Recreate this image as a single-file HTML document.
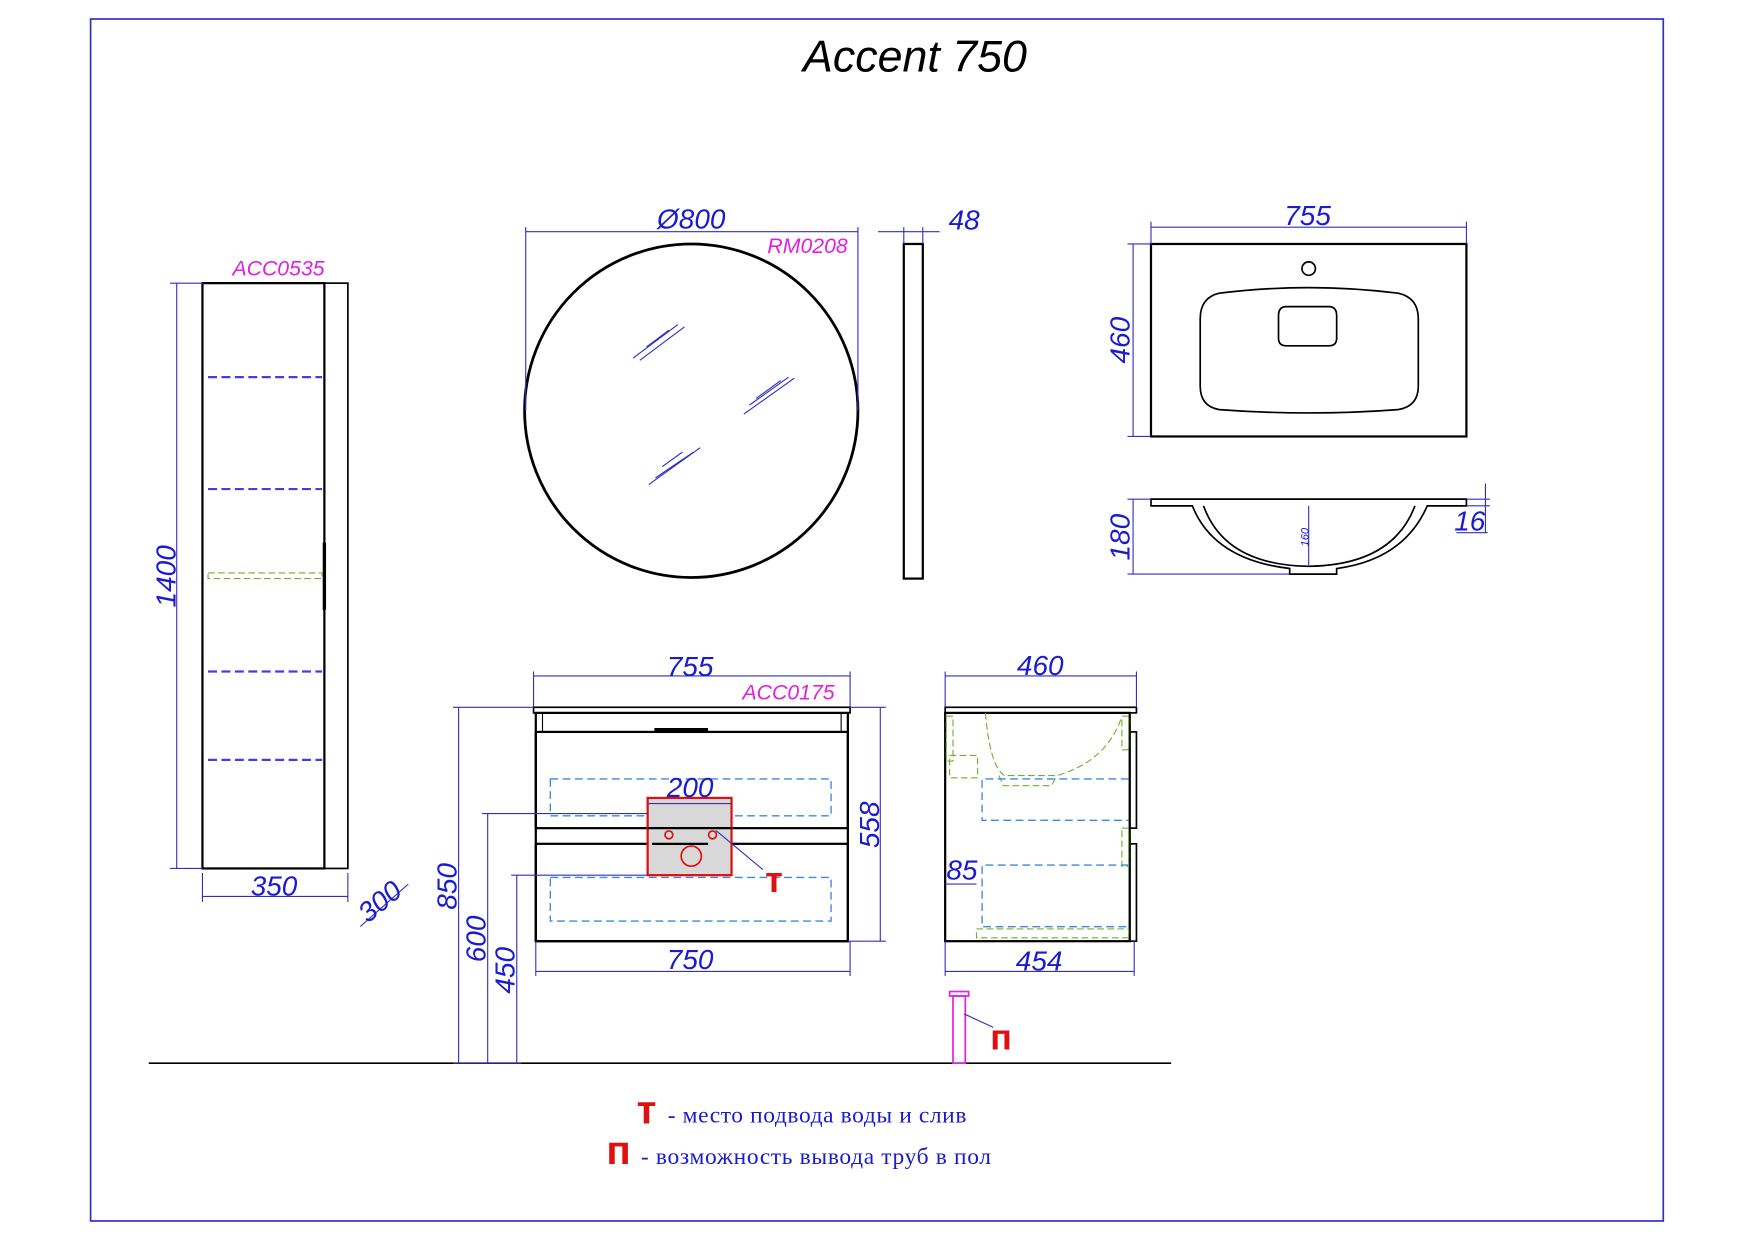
<!DOCTYPE html>
<html><head><meta charset="utf-8"><style>html,body{margin:0;padding:0;background:#fff}svg{display:block}</style></head><body>
<svg width="1755" height="1240" viewBox="0 0 1569 1108" preserveAspectRatio="none" xmlns="http://www.w3.org/2000/svg" font-family="Liberation Sans, sans-serif">
<rect x="0" y="0" width="1569" height="1108" fill="#fff"/>
<rect x="81" y="17" width="1406" height="1074" fill="none" stroke="#3030c0" stroke-width="1.5"/>
<text x="818" y="64" font-size="40" font-style="italic" text-anchor="middle" fill="#000">Accent 750</text>

<g stroke="#000" fill="none" stroke-width="2">
<rect x="181" y="253" width="109" height="523"/>
<rect x="290" y="253" width="21" height="523" stroke-width="1.5"/>
<line x1="290" y1="485" x2="290" y2="545" stroke-width="3"/>
<circle cx="618" cy="367" r="149" stroke-width="2.5"/>
<rect x="808" y="218" width="17" height="299"/>
<rect x="1029" y="218" width="282" height="172"/>
<path d="M1090,262 Q1170,252 1250,262 Q1268,266 1268,285 L1268,345 Q1268,363 1250,366 Q1170,372 1090,366 Q1073,363 1073,345 L1073,285 Q1073,266 1090,262Z" stroke-width="1.5"/>
<path d="M1150,274 L1188,274 Q1195,274 1195,282 L1195,302 Q1195,309 1188,309 L1150,309 Q1143,309 1143,302 L1143,282 Q1143,274 1150,274Z" stroke-width="1.5"/>
<circle cx="1170" cy="240" r="6" stroke-width="1.5"/>
<path d="M1029,446 L1311,446 L1311,452 L1276,452 Q1255,500 1195,508 L1195,513 L1153,513 L1153,508 Q1085,500 1066,452 L1029,452Z" stroke-width="1.5"/>
<path d="M1076,452 Q1095,505 1170,506 Q1245,505 1265,452" stroke-width="1.5"/>
<rect x="477" y="632" width="283" height="5" stroke-width="1.5"/>
<rect x="479" y="637" width="279" height="204"/>
<rect x="479" y="654" width="279" height="86"/>
<rect x="479" y="740" width="279" height="14" stroke-width="1"/>
<rect x="479" y="754" width="279" height="87"/>
<line x1="485" y1="637" x2="485" y2="654" stroke-width="1"/>
<line x1="752" y1="637" x2="752" y2="654" stroke-width="1"/>
<line x1="585" y1="652" x2="633" y2="652" stroke-width="3"/>
<rect x="845" y="632" width="171" height="5" stroke-width="1.5"/>
<rect x="845" y="637" width="165" height="204"/>
<rect x="1010" y="654" width="6" height="86" stroke-width="1.5"/>
<rect x="1010" y="754" width="6" height="87" stroke-width="1.5"/>
<line x1="133" y1="950" x2="1047" y2="950" stroke-width="1.5"/>
</g>

<g stroke="#3030c0" stroke-width="1">
<line x1="566" y1="320" x2="606" y2="290"/><line x1="572" y1="322" x2="612" y2="292"/><line x1="578" y1="310" x2="598" y2="295"/>
<line x1="665" y1="370" x2="710" y2="338"/><line x1="670" y1="362" x2="705" y2="337"/><line x1="676" y1="356" x2="698" y2="340"/>
<line x1="580" y1="433" x2="626" y2="400"/><line x1="586" y1="427" x2="620" y2="404"/><line x1="592" y1="417" x2="610" y2="404"/>
</g>

<g stroke="#4040e0" stroke-width="2" stroke-dasharray="8,4">
<line x1="186" y1="337" x2="288" y2="337"/><line x1="186" y1="437" x2="288" y2="437"/>
<line x1="186" y1="600" x2="288" y2="600"/><line x1="186" y1="679" x2="288" y2="679"/>
</g>
<g stroke="#70b030" stroke-width="1" stroke-dasharray="6,3" fill="none">
<rect x="186" y="512" width="102" height="5"/>
<path d="M881,637 Q885,685 898,693 L945,693 Q990,680 1003,640"/>
<path d="M893,693 L897,702 L940,702 L945,693"/>
<rect x="846" y="640" width="6" height="40"/>
<rect x="1003" y="640" width="6" height="30"/>
<rect x="1003" y="740" width="6" height="34"/>
<rect x="873" y="830" width="136" height="8"/>
<rect x="849" y="675" width="25" height="20"/>
</g>
<g stroke="#3a8ae0" stroke-width="1.2" stroke-dasharray="7,4" fill="none">
<rect x="492" y="696" width="251" height="33"/>
<rect x="492" y="784" width="251" height="39"/>
<path d="M1009,696 L878,696 L878,733 L1009,733"/>
<path d="M1009,773 L878,773 L878,828 L1009,828"/>
</g>

<rect x="579" y="713" width="75" height="69" fill="#d8d8d8" stroke="#e01010" stroke-width="2"/>
<line x1="579" y1="740" x2="654" y2="740" stroke="#000" stroke-width="2"/>
<line x1="583" y1="754" x2="633" y2="754" stroke="#000" stroke-width="2"/>
<g stroke="#e01010" stroke-width="1.5" fill="none">
<circle cx="598" cy="746" r="3.5"/><circle cx="637" cy="746" r="3.5"/><circle cx="618" cy="765" r="9"/>
</g>
<line x1="640" y1="742" x2="682" y2="777" stroke="#3030c0" stroke-width="1"/>
<text x="692" y="797" font-size="32" font-weight="bold" fill="#e01010" text-anchor="middle">т</text>

<rect x="852" y="890" width="11" height="60" fill="none" stroke="#e020e0" stroke-width="1.5"/>
<rect x="849" y="886" width="17" height="4" fill="none" stroke="#e020e0" stroke-width="1.5"/>
<line x1="862" y1="906" x2="888" y2="918" stroke="#3030c0" stroke-width="1"/>
<text x="895" y="938" font-size="32" font-weight="bold" fill="#e01010" text-anchor="middle">п</text>

<g stroke="#3030c0" stroke-width="1" fill="none">
<line x1="158" y1="253" x2="158" y2="776"/><line x1="152" y1="253" x2="181" y2="253"/><line x1="152" y1="776" x2="181" y2="776"/>
<line x1="181" y1="780" x2="181" y2="806"/><line x1="311" y1="780" x2="311" y2="806"/><line x1="181" y1="801" x2="311" y2="801"/>
<line x1="322" y1="828" x2="365" y2="790"/>
<line x1="470" y1="207" x2="767" y2="207"/><line x1="470" y1="203" x2="470" y2="367"/><line x1="767" y1="203" x2="767" y2="367"/>
<line x1="785" y1="207" x2="840" y2="207"/><line x1="808" y1="203" x2="808" y2="218"/><line x1="825" y1="203" x2="825" y2="218"/>
<line x1="1029" y1="203" x2="1311" y2="203"/><line x1="1029" y1="198" x2="1029" y2="218"/><line x1="1311" y1="198" x2="1311" y2="218"/>
<line x1="1013" y1="218" x2="1013" y2="390"/><line x1="1008" y1="218" x2="1029" y2="218"/><line x1="1008" y1="390" x2="1029" y2="390"/>
<line x1="1013" y1="446" x2="1013" y2="513"/><line x1="1008" y1="446" x2="1029" y2="446"/><line x1="1008" y1="513" x2="1153" y2="513"/>
<line x1="1170" y1="452" x2="1170" y2="505"/>
<line x1="1328" y1="432" x2="1328" y2="476"/><line x1="1311" y1="446" x2="1332" y2="446"/><line x1="1311" y1="452" x2="1332" y2="452"/><line x1="1302" y1="476" x2="1330" y2="476"/>
<line x1="477" y1="604" x2="760" y2="604"/><line x1="477" y1="600" x2="477" y2="632"/><line x1="760" y1="600" x2="760" y2="632"/>
<line x1="579" y1="718" x2="654" y2="718"/>
<line x1="787" y1="632" x2="787" y2="841"/><line x1="760" y1="632" x2="792" y2="632"/><line x1="758" y1="841" x2="792" y2="841"/>
<line x1="479" y1="868" x2="760" y2="868"/><line x1="479" y1="841" x2="479" y2="872"/><line x1="760" y1="841" x2="760" y2="872"/>
<line x1="410" y1="632" x2="410" y2="950"/><line x1="405" y1="632" x2="477" y2="632"/>
<line x1="436" y1="727" x2="436" y2="950"/><line x1="431" y1="727" x2="579" y2="727"/>
<line x1="462" y1="782" x2="462" y2="950"/><line x1="457" y1="782" x2="579" y2="782"/>
<line x1="405" y1="950" x2="466" y2="950"/>
<line x1="845" y1="604" x2="1016" y2="604"/><line x1="845" y1="600" x2="845" y2="632"/><line x1="1016" y1="600" x2="1016" y2="632"/>
<line x1="845" y1="868" x2="1014" y2="868"/><line x1="845" y1="841" x2="845" y2="872"/><line x1="1014" y1="841" x2="1014" y2="872"/>
<line x1="845" y1="790" x2="873" y2="790"/>
</g>

<g fill="#1a1ad0" font-size="25" font-style="italic" text-anchor="middle">
<text x="245" y="800">350</text>
<text transform="translate(345,812) rotate(-40)">300</text>
<text transform="translate(157,515) rotate(-90)">1400</text>
<text x="618" y="204">Ø800</text>
<text x="862" y="205">48</text>
<text x="1169" y="201">755</text>
<text transform="translate(1010,304) rotate(-90)">460</text>
<text transform="translate(1010,480) rotate(-90)">180</text>
<text x="1314" y="474">16</text>
<text x="617" y="604">755</text>
<text x="617" y="712">200</text>
<text transform="translate(786,737) rotate(-90)">558</text>
<text x="617" y="866">750</text>
<text transform="translate(408,792) rotate(-90)">850</text>
<text transform="translate(434,839) rotate(-90)">600</text>
<text transform="translate(460,867) rotate(-90)">450</text>
<text x="930" y="603">460</text>
<text x="929" y="867">454</text>
<text x="860" y="786">85</text>
<text transform="translate(1170,480) rotate(-90)" font-size="10">160</text>
</g>
<g fill="#e020e0" font-size="19" font-style="italic" text-anchor="middle">
<text x="249" y="246">ACC0535</text>
<text x="722" y="226">RM0208</text>
<text x="705" y="625">ACC0175</text>
</g>

<text x="578" y="1004" font-size="36" font-weight="bold" fill="#e01010" text-anchor="middle">т</text>
<text x="597" y="1003" font-size="21" fill="#1a1ad0" font-family="Liberation Serif, serif" textLength="267">- место подвода воды и слив</text>
<text x="553" y="1040" font-size="36" font-weight="bold" fill="#e01010" text-anchor="middle">п</text>
<text x="573" y="1040" font-size="21" fill="#1a1ad0" font-family="Liberation Serif, serif" textLength="313">- возможность вывода труб в пол</text>
</svg>
</body></html>
